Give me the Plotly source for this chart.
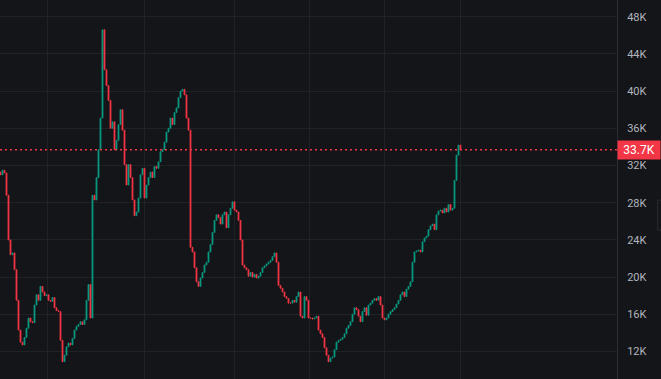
import plotly.graph_objects as go

# Closing prices (thousands), one candle per period
closes = [
    31.0, 31.5, 31.2, 28.8, 24.0, 22.4, 22.6, 20.8, 17.5, 14.3,
    13.0, 12.7, 13.5, 14.5, 15.6, 15.2, 15.1, 17.0, 18.1, 17.5,
    19.0, 18.4, 18.0, 18.1, 17.5, 17.4, 17.8, 16.7, 16.4, 16.3,
    13.2, 10.9, 11.6, 12.5, 12.9, 12.7, 13.4, 14.3, 14.7, 14.9,
    15.2, 14.9, 15.4, 17.5, 19.2, 15.6, 28.8, 28.3, 30.7, 33.7,
    37.1, 46.6, 42.3, 40.6, 39.0, 36.0, 36.7, 33.7, 34.7, 36.4,
    38.0, 35.8, 32.1, 29.9, 32.1, 30.7, 28.3, 26.6, 27.0, 28.5,
    31.0, 31.7, 28.5, 29.9, 30.7, 31.3, 30.7, 31.9, 31.7, 32.4,
    33.5, 33.7, 34.5, 35.6, 36.0, 37.1, 36.4, 37.7, 38.2, 39.3,
    40.0, 40.2, 39.6, 37.1, 35.8, 23.2, 22.7, 21.0, 19.5, 19.0,
    19.9, 20.5, 21.3, 21.6, 22.7, 23.5, 24.8, 26.1, 26.7, 26.4,
    25.7, 26.7, 27.0, 25.3, 26.7, 27.4, 28.1, 27.2, 27.0, 26.1,
    24.0, 21.3, 21.0, 20.8, 20.1, 20.5, 20.0, 20.3, 19.9, 20.1,
    20.5, 21.0, 21.2, 21.4, 21.6, 21.8, 22.2, 22.6, 21.6, 19.1,
    18.8, 18.4, 17.9, 17.7, 17.2, 17.2, 17.5, 17.3, 17.9, 18.4,
    15.8, 15.6, 17.9, 17.5, 15.6, 15.6, 15.5, 15.6, 15.8, 14.3,
    13.9, 13.5, 12.4, 11.6, 10.9, 11.3, 11.4, 12.2, 13.0, 13.2,
    13.3, 13.5, 13.9, 14.5, 14.8, 15.2, 16.0, 16.7, 16.5, 15.8,
    15.2, 16.3, 16.7, 15.9, 17.0, 17.2, 17.5, 17.7, 17.5, 17.9,
    17.0, 15.6, 15.4, 15.6, 16.0, 16.3, 16.5, 16.7, 17.1, 17.5,
    18.1, 18.4, 17.9, 18.7, 19.0, 19.5, 21.6, 22.7, 22.8, 22.9,
    22.7, 23.8, 24.2, 24.4, 25.1, 25.5, 25.7, 25.1, 26.7, 27.1,
    27.2, 26.9, 27.4, 27.0, 27.8, 27.2, 27.4, 30.4, 33.1, 34.2,
    33.7,
]
first_open = 31.3
last_price = 33.7

tick_values = [12, 16, 20, 24, 28, 32, 36, 40, 44, 48]
tick_labels = ["12K", "16K", "20K", "24K", "28K", "32K", "36K", "40K", "44K", "48K"]
grid_x = [23.6, 72.1, 117.1, 154.6, 192.1, 230.1]

opens = [first_open] + closes[:-1]
highs = [max(o, c) for o, c in zip(opens, closes)]
lows = [min(o, c) for o, c in zip(opens, closes)]
idx = list(range(len(closes)))

UP = "#089981"
DOWN = "#f23645"
BG = "#141518"
GRID = "#202226"

fig = go.Figure()
fig.add_trace(go.Candlestick(
    x=idx, open=opens, high=highs, low=lows, close=closes,
    increasing=dict(line=dict(color=UP, width=0.8), fillcolor=UP),
    decreasing=dict(line=dict(color=DOWN, width=0.8), fillcolor=DOWN),
    whiskerwidth=0, showlegend=False, hoverinfo="skip",
))

fig.add_shape(type="line", xref="paper", x0=0, x1=1, yref="y",
              y0=last_price, y1=last_price,
              line=dict(color=DOWN, width=1.5, dash="2px,3px"))

fig.add_annotation(xref="paper", x=1, yref="y", y=last_price,
                   text="33.7K", showarrow=False, xanchor="left",
                   yanchor="middle", bgcolor=DOWN, borderpad=2,
                   font=dict(color="#ffffff", size=12, family="Roboto"),
                   width=38, align="center")

fig.add_shape(type="rect", xref="paper", yref="paper",
              x0=1.066, x1=1.09, y0=0.393, y1=0.472,
              line=dict(color="#2a2c31", width=1), fillcolor=BG)

fig.update_layout(
    width=661, height=379,
    margin=dict(l=0, r=44, t=0, b=0),
    paper_bgcolor=BG, plot_bgcolor=BG,
    xaxis=dict(range=[-0.25, 308.25], rangeslider=dict(visible=False),
               showticklabels=False, tickvals=grid_x, showgrid=True,
               gridcolor=GRID, gridwidth=1, zeroline=False, showline=False,
               ticks=""),
    yaxis=dict(side="right", range=[9.04, 49.8], tickvals=tick_values,
               ticktext=tick_labels, showgrid=True, gridcolor=GRID,
               gridwidth=1, zeroline=False, showline=True,
               linecolor="#2a2c31", linewidth=1, ticks="",
               ticklabelstandoff=7,
               tickfont=dict(color="#b2b5be", size=11, family="Roboto")),
)

fig.write_html(
    "out.html",
    config={"displayModeBar": False},
    post_script="document.body.style.margin='0';document.body.style.padding='0';"
                "document.body.style.overflow='hidden';"
                "document.body.style.background='" + BG + "';",
)
